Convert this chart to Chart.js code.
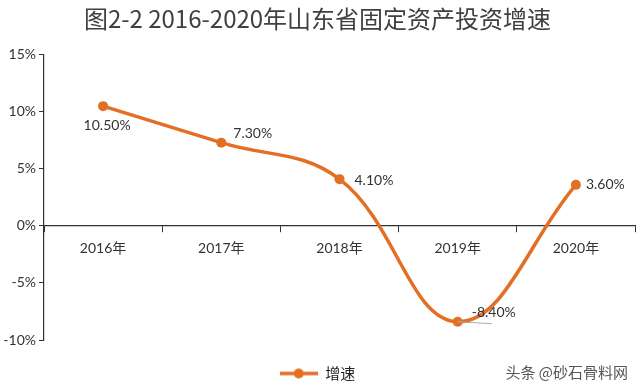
<!DOCTYPE html>
<html>
<head>
<meta charset="utf-8">
<script src="https://cdn.jsdelivr.net/npm/chart.js@4.4.0/dist/chart.umd.min.js"></script>
<style>
    body { margin: 0; background: #fff; }
    #wrap { position: relative; width: 640px; height: 388px; }
    #mark {
        position: absolute; right: 12px; top: 361px;
        font: 15px "Noto Sans CJK SC", sans-serif; color: #555;
    }
</style>
</head>
<body>
<div id="wrap">
    <canvas id="growthChart" width="640" height="388"></canvas>
    <div id="mark">头条 @砂石骨料网</div>
</div>
<script>
const years = ['2016年', '2017年', '2018年', '2019年', '2020年'];
const growth = [10.5, 7.3, 4.1, -8.4, 3.6];
const yTicks = [-10, -5, 0, 5, 10, 15];

const orange = '#E36F25';
const textColor = '#333';

// where each value label sits relative to its point
const labelAnchor = [
    { dx: 4, dy: 19, align: 'center' },
    { dx: 12, dy: -9, align: 'left' },
    { dx: 15, dy: 1, align: 'left' },
    { dx: 14, dy: -9, align: 'left' },
    { dx: 10, dy: 0, align: 'left' }
];

// legend marker: line with dot
function legendMarker() {
    const c = document.createElement('canvas');
    c.width = 38;
    c.height = 12;
    const ctx = c.getContext('2d');
    ctx.strokeStyle = orange;
    ctx.lineWidth = 3.5;
    ctx.beginPath();
    ctx.moveTo(0, 6);
    ctx.lineTo(38, 6);
    ctx.stroke();
    ctx.fillStyle = orange;
    ctx.beginPath();
    ctx.arc(19, 6, 5, 0, Math.PI * 2);
    ctx.fill();
    return c;
}

// keep the legend box a fixed height so the plot ends at the right place
const legendHeight = {
    id: 'legendHeight',
    beforeLayout(chart) {
        const legend = chart.legend;
        if (legend && !legend._fixed) {
            const fit = legend.fit;
            legend.fit = function () {
                fit.call(this);
                this.height = 48;
            };
            legend._fixed = true;
        }
    }
};

const valueLabels = {
    id: 'valueLabels',
    afterDatasetsDraw(chart) {
        const ctx = chart.ctx;
        const meta = chart.getDatasetMeta(0);
        ctx.save();
        ctx.font = '14px Lato, "Noto Sans", sans-serif';
        ctx.fillStyle = textColor;
        ctx.textBaseline = 'middle';
        meta.data.forEach(function (pt, i) {
            const a = labelAnchor[i];
            if (i === 3) {
                // leader line under the -8.40% label
                ctx.strokeStyle = '#aaa';
                ctx.lineWidth = 1;
                ctx.beginPath();
                ctx.moveTo(pt.x, pt.y);
                ctx.lineTo(pt.x + 34, pt.y + 2);
                ctx.stroke();
            }
            ctx.textAlign = a.align;
            ctx.fillText(growth[i].toFixed(2) + '%', pt.x + a.dx, pt.y + a.dy);
        });
        ctx.restore();
    }
};

const config = {
    type: 'line',
    data: {
        labels: years,
        datasets: [{
            label: '增速',
            data: growth,
            borderColor: orange,
            backgroundColor: orange,
            borderWidth: 3.5,
            pointRadius: 5,
            pointHoverRadius: 5,
            pointBackgroundColor: orange,
            pointBorderWidth: 0,
            tension: 0.4,
            fill: false,
            clip: false
        }]
    },
    options: {
        responsive: false,
        animation: false,
        layout: {
            padding: { left: 0, right: 5, top: 0, bottom: 0 }
        },
        scales: {
            x: {
                position: { y: 0 },
                offset: true,
                grid: {
                    offset: true,
                    drawOnChartArea: false,
                    drawTicks: true,
                    tickLength: 6,
                    color: textColor
                },
                border: { display: true, color: textColor, width: 1.2 },
                ticks: {
                    color: textColor,
                    padding: 8,
                    font: { family: 'Lato, "Noto Sans CJK SC", sans-serif', size: 14 }
                }
            },
            y: {
                min: -10,
                max: 15,
                afterBuildTicks: function (scale) {
                    scale.ticks = yTicks.map(function (v) { return { value: v }; });
                },
                afterFit: function (scale) {
                    scale.width = 44;
                },
                grid: {
                    drawOnChartArea: false,
                    drawTicks: true,
                    tickLength: 5,
                    color: textColor
                },
                border: { display: true, color: textColor, width: 1.2 },
                ticks: {
                    color: textColor,
                    padding: 3,
                    font: { family: 'Lato, "Noto Sans", sans-serif', size: 14 },
                    callback: function (v) { return v + '%'; }
                }
            }
        },
        plugins: {
            title: {
                display: true,
                text: '图2-2 2016-2020年山东省固定资产投资增速',
                color: '#404040',
                font: { family: '"Noto Sans CJK SC", sans-serif', size: 24, weight: 'normal' },
                padding: { top: 4, bottom: 22 }
            },
            legend: {
                position: 'bottom',
                labels: {
                    usePointStyle: true,
                    pointStyle: legendMarker(),
                    pointStyleWidth: 38,
                    color: '#222',
                    font: { family: '"Noto Sans CJK SC", sans-serif', size: 15 },
                    padding: 26
                }
            },
            tooltip: { enabled: false }
        }
    },
    plugins: [legendHeight, valueLabels]
};

const growthChart = new Chart(document.getElementById('growthChart'), config);
</script>
</body>
</html>
